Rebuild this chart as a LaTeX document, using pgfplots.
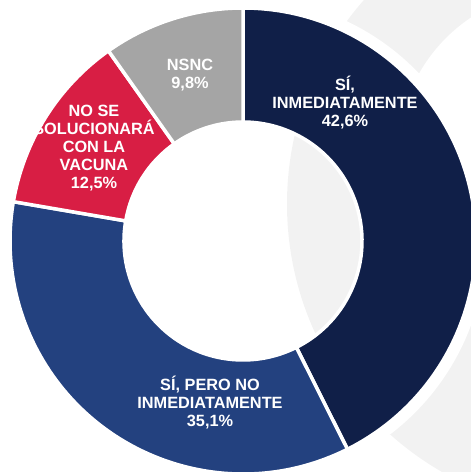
\documentclass[border=0pt]{standalone}
\usepackage{pgfplots}
\pgfplotsset{compat=1.18}
\usepackage{fontspec}
\setmainfont{Liberation Sans}
\definecolor{cnavy}{HTML}{101F48}
\definecolor{cblue}{HTML}{23417F}
\definecolor{cred}{HTML}{D81E44}
\definecolor{cgray}{HTML}{A5A5A5}
\definecolor{cbg}{HTML}{F2F2F2}
% #1 = cumulative share before the slice (%), #2 = share (%), #3 = colour
\newcommand{\slice}[3]{%
\filldraw[fill=#3, draw=white, line width=3.5pt]
([shift={({90-3.6*(#1)}:233pt)}]axis cs:243,231) arc[start angle={90-3.6*(#1)}, end angle={90-3.6*(#1+#2)}, radius=233pt]
-- ([shift={({90-3.6*(#1+#2)}:119pt)}]axis cs:243,231) arc[start angle={90-3.6*(#1+#2)}, end angle={90-3.6*(#1)}, radius=119pt] -- cycle;}
\begin{document}
\begin{tikzpicture}
\begin{axis}[width=471pt,height=472pt,scale only axis,
  xmin=0,xmax=471,ymin=0,ymax=472,hide axis,clip=true]
\coordinate (SW) at (axis cs:0,0);
\coordinate (NE) at (axis cs:471,472);
% faint background decoration
\fill[cbg] (axis cs:596,268) circle[radius=309pt];
\fill[white] (axis cs:562,318) circle[radius=164pt];
\fill[white, even odd rule] (axis cs:243,231) circle[radius=243pt] circle[radius=232pt];
% slices: 42.6, 35.1, 12.5, 9.8
\slice{0}{42.6}{cnavy}
\slice{42.6}{35.1}{cblue}
\slice{42.6+35.1}{12.5}{cred}
\slice{42.6+35.1+12.5}{9.8}{cgray}
\tikzset{lbl/.style={align=center, text=white, font=\bfseries\fontsize{16.3}{18}\selectfont, inner sep=0pt}}
\node[lbl] at (axis cs:345,369) {SÍ,\\INMEDIATAMENTE\\42,6\%};
\node[lbl] at (axis cs:210,69) {SÍ, PERO NO\\INMEDIATAMENTE\\35,1\%};
\node[lbl] at (axis cs:94,324) {NO SE\\SOLUCIONARÁ\\CON LA\\VACUNA\\12,5\%};
\node[lbl] at (axis cs:190,397) {NSNC\\9,8\%};
\end{axis}
\pgfresetboundingbox
\useasboundingbox (SW) rectangle (NE);
\end{tikzpicture}
\end{document}
